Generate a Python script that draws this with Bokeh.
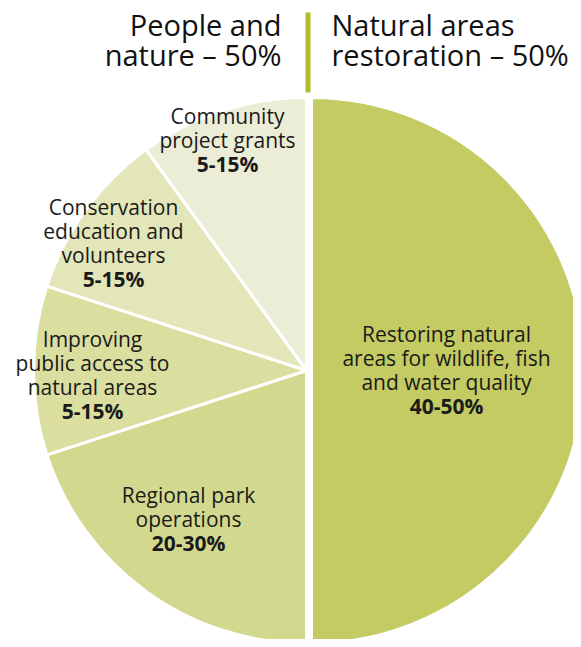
from bokeh.plotting import figure
from bokeh.models import Range1d
from bokeh.core.properties import value
from bokeh.embed import file_html
from bokeh.resources import INLINE
import math

# ---- data ----
categories = ["Restoring natural areas for wildlife, fish and water quality",
              "Regional park operations",
              "Improving public access to natural areas",
              "Conservation education and volunteers",
              "Community project grants"]
shares = [50, 20, 10, 10, 10]
ranges = ["40-50%", "20-30%", "5-15%", "5-15%", "5-15%"]
label_lines = [["Restoring natural", "areas for wildlife, fish", "and water quality"],
               ["Regional park", "operations"],
               ["Improving", "public access to", "natural areas"],
               ["Conservation", "education and", "volunteers"],
               ["Community", "project grants"]]
colors = ["#c3cb62", "#d2d98f", "#dade9f", "#e2e6b9", "#ecedd6"]
header_left = ["People and", "nature \u2013 50%"]
header_right = ["Natural areas", "restoration \u2013 50%"]

# ---- layout (picture pixel coordinates; y negated) ----
W, H = 573, 639
p = figure(width=W, height=H, output_backend="svg", toolbar_location=None,
           x_range=Range1d(0, W), y_range=Range1d(-H, 0),
           min_border=0, outline_line_color=None)
p.axis.visible = False
p.grid.visible = False
p.background_fill_color = "white"

FONT = "Open Sans"
R = 273
cx_left, cy = 306, 370
cx_right = 311
label_pos = [(446, 333), (188, 494), (92, 338), (113, 206), (227, 115)]
line_h = 24

total = sum(shares)
cum = 0.0
for i, v in enumerate(shares):
    c0 = cum / total * 360.0
    cum += v
    c1 = cum / total * 360.0
    start = math.radians(90 - c1)
    end = math.radians(90 - c0)
    cx = cx_right if i == 0 else cx_left
    p.wedge(x=cx, y=-cy, radius=R, start_angle=start, end_angle=end,
            fill_color=colors[i], line_color="white", line_width=3)

for i, lines in enumerate(label_lines):
    x0, y0 = label_pos[i]
    for j, t in enumerate(lines):
        p.text(x=[x0], y=[-(y0 + j * line_h)], text=[t], text_align="center",
               text_baseline="middle", text_font=value(FONT),
               text_font_size="21px", text_color="#1a1a1a")
    p.text(x=[x0], y=[-(y0 + len(lines) * line_h)], text=[ranges[i]],
           text_align="center", text_baseline="middle", text_font=value(FONT),
           text_font_size="21px", text_font_style="bold", text_color="#1a1a1a")

# header
for j, t in enumerate(header_left):
    p.text(x=[281], y=[-(24 + j * 30)], text=[t], text_align="right",
           text_baseline="middle", text_font=value(FONT), text_font_size="29px",
           text_color="#111111")
for j, t in enumerate(header_right):
    p.text(x=[331], y=[-(24 + j * 30)], text=[t], text_align="left",
           text_baseline="middle", text_font=value(FONT), text_font_size="29px",
           text_color="#111111")
p.quad(left=[305], right=[310], top=[-12], bottom=[-92], fill_color="#b1bb2c",
       line_color=None)

open("out.html", "w").write(file_html(p, INLINE))
